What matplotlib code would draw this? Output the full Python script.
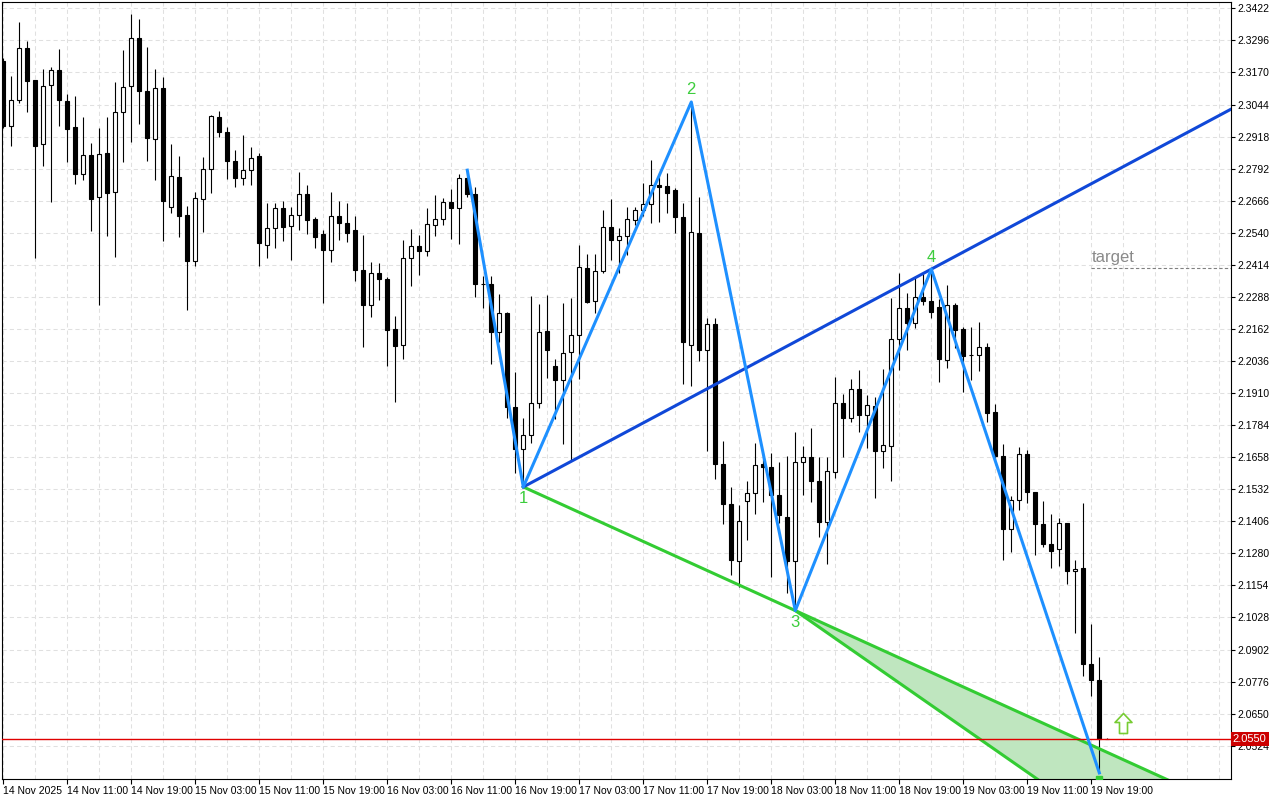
import numpy as np
import matplotlib.pyplot as plt
import matplotlib.transforms as mtransforms
from matplotlib.path import Path

plt.rcParams['font.family'] = ['Liberation Sans', 'DejaVu Sans']

# hourly bars, first one is 14 Nov 03:00
opens = [2.3215, 2.2959, 2.3062, 2.3266, 2.3140, 2.2889, 2.3121, 2.3180, 2.3058, 2.2956,
         2.2771, 2.2845, 2.2680, 2.2853, 2.2700, 2.3014, 2.3117, 2.3305, 2.3097, 2.2908,
         2.3109, 2.2641, 2.2759, 2.2610, 2.2429, 2.2673, 2.2790, 2.2995, 2.2936, 2.2822,
         2.2755, 2.2786, 2.2842, 2.2492, 2.2559, 2.2637, 2.2566, 2.2610, 2.2692, 2.2594,
         2.2535, 2.2472, 2.2606, 2.2578, 2.2551, 2.2394, 2.2256, 2.2382, 2.2358, 2.2162,
         2.2099, 2.2441, 2.2488, 2.2468, 2.2570, 2.2594, 2.2661, 2.2637, 2.2755, 2.2692,
         2.2338, 2.2338, 2.2150, 2.2225, 2.1855, 2.1690, 2.1745, 2.1871, 2.2154, 2.2016,
         2.1961, 2.2071, 2.2138, 2.2401, 2.2272, 2.2390, 2.2563, 2.2511, 2.2527, 2.2590,
         2.2629, 2.2653, 2.2728, 2.2724, 2.2708, 2.2602, 2.2099, 2.2539, 2.2079, 2.2181,
         2.1631, 2.1474, 2.1250, 2.1486, 2.1517, 2.1631, 2.1619, 2.1509, 2.1423, 2.1250,
         2.1639, 2.1659, 2.1564, 2.1403, 2.1600, 2.1871, 2.1812, 2.1926, 2.1824, 2.1859,
         2.1682, 2.1702, 2.2122, 2.2244, 2.2185, 2.2287, 2.2272, 2.2248, 2.2040, 2.2256,
         2.2162, 2.2059, 2.2059, 2.2091, 2.1835, 2.1663, 2.1376, 2.1490, 2.1670, 2.1521,
         2.1395, 2.1317, 2.1297, 2.1399, 2.1211, 2.1222, 2.0845, 2.0782, 2.0552]
highs = [2.3227, 2.3156, 2.3368, 2.3293, 2.3142, 2.3183, 2.3191, 2.3262, 2.3085, 2.3077,
         2.2995, 2.2893, 2.2952, 2.2995, 2.3132, 2.3258, 2.3400, 2.3380, 2.3270, 2.3183,
         2.3152, 2.2889, 2.2842, 2.2645, 2.2700, 2.2838, 2.3003, 2.3018, 2.2956, 2.2865,
         2.2924, 2.2877, 2.2853, 2.2657, 2.2657, 2.2665, 2.2641, 2.2779, 2.2728, 2.2602,
         2.2551, 2.2700, 2.2665, 2.2657, 2.2606, 2.2531, 2.2425, 2.2421, 2.2366, 2.2213,
         2.2511, 2.2555, 2.2531, 2.2637, 2.2688, 2.2676, 2.2712, 2.2771, 2.2786, 2.2720,
         2.2370, 2.2370, 2.2299, 2.2228, 2.1993, 2.1812, 2.2291, 2.2260, 2.2295, 2.2044,
         2.2264, 2.2283, 2.2492, 2.2456, 2.2456, 2.2629, 2.2673, 2.2559, 2.2641, 2.2641,
         2.2735, 2.2826, 2.2775, 2.2775, 2.2716, 2.2657, 2.3054, 2.2680, 2.2205, 2.2205,
         2.1721, 2.1541, 2.1470, 2.1564, 2.1714, 2.1674, 2.1674, 2.1639, 2.1663, 2.1757,
         2.1702, 2.1773, 2.1659, 2.1659, 2.1973, 2.1906, 2.1965, 2.2000, 2.1902, 2.1894,
         2.2004, 2.2283, 2.2382, 2.2303, 2.2366, 2.2382, 2.2397, 2.2280, 2.2335, 2.2264,
         2.2170, 2.2170, 2.2189, 2.2107, 2.1867, 2.1710, 2.1505, 2.1698, 2.1686, 2.1523,
         2.1486, 2.1435, 2.1419, 2.1401, 2.1254, 2.1478, 2.1002, 2.0873, 2.0554]
lows = [2.2952, 2.2881, 2.3050, 2.3014, 2.2441, 2.2802, 2.2661, 2.2959, 2.2818, 2.2732,
        2.2747, 2.2547, 2.2256, 2.2527, 2.2445, 2.2818, 2.2897, 2.2967, 2.2822, 2.2747,
        2.2507, 2.2618, 2.2523, 2.2236, 2.2409, 2.2543, 2.2696, 2.2916, 2.2751, 2.2720,
        2.2728, 2.2728, 2.2409, 2.2441, 2.2480, 2.2507, 2.2433, 2.2551, 2.2535, 2.2480,
        2.2264, 2.2425, 2.2511, 2.2504, 2.2350, 2.2091, 2.2209, 2.2276, 2.2016, 2.1875,
        2.2044, 2.2331, 2.2374, 2.2449, 2.2527, 2.2570, 2.2515, 2.2496, 2.2680, 2.2287,
        2.2244, 2.2024, 2.2111, 2.1812, 2.1596, 2.1541, 2.1714, 2.1851, 2.1969, 2.1808,
        2.1710, 2.1647, 2.1965, 2.2264, 2.2225, 2.2382, 2.2433, 2.2382, 2.2452, 2.2570,
        2.2606, 2.2578, 2.2582, 2.2618, 2.2539, 2.1946, 2.1938, 2.2036, 2.1682, 2.1572,
        2.1395, 2.1195, 2.1148, 2.1332, 2.1435, 2.1482, 2.1187, 2.1399, 2.1124, 2.1055,
        2.1509, 2.1482, 2.1344, 2.1238, 2.1576, 2.1659, 2.1796, 2.1757, 2.1694, 2.1497,
        2.1615, 2.1564, 2.2000, 2.2079, 2.2166, 2.2256, 2.2205, 2.1953, 2.2008, 2.2087,
        2.1914, 2.1961, 2.1997, 2.1796, 2.1639, 2.1254, 2.1285, 2.1450, 2.1478, 2.1273,
        2.1305, 2.1222, 2.1230, 2.1160, 2.0967, 2.0798, 2.0719, 2.0417, 2.0550]
closes = [2.2959, 2.3062, 2.3266, 2.3136, 2.2881, 2.3117, 2.3180, 2.3062, 2.2948, 2.2771,
          2.2845, 2.2673, 2.2849, 2.2696, 2.3014, 2.3113, 2.3305, 2.3097, 2.2912, 2.3109,
          2.2665, 2.2763, 2.2606, 2.2429, 2.2676, 2.2790, 2.2999, 2.2936, 2.2822, 2.2755,
          2.2786, 2.2834, 2.2500, 2.2559, 2.2637, 2.2563, 2.2610, 2.2692, 2.2590, 2.2523,
          2.2472, 2.2606, 2.2578, 2.2539, 2.2394, 2.2256, 2.2382, 2.2358, 2.2158, 2.2095,
          2.2441, 2.2488, 2.2468, 2.2574, 2.2594, 2.2661, 2.2637, 2.2755, 2.2692, 2.2338,
          2.2337, 2.2150, 2.2225, 2.1855, 2.1690, 2.1745, 2.1871, 2.2150, 2.2079, 2.1961,
          2.2067, 2.2138, 2.2405, 2.2268, 2.2390, 2.2563, 2.2511, 2.2527, 2.2594, 2.2629,
          2.2653, 2.2728, 2.2720, 2.2696, 2.2602, 2.2111, 2.2543, 2.2079, 2.2181, 2.1631,
          2.1474, 2.1254, 2.1407, 2.1517, 2.1627, 2.1619, 2.1509, 2.1431, 2.1250, 2.1639,
          2.1659, 2.1564, 2.1403, 2.1604, 2.1871, 2.1812, 2.1926, 2.1824, 2.1863, 2.1682,
          2.1706, 2.2122, 2.2244, 2.2185, 2.2287, 2.2272, 2.2228, 2.2044, 2.2256, 2.2158,
          2.2056, 2.2058, 2.2091, 2.1832, 2.1663, 2.1376, 2.1490, 2.1670, 2.1521, 2.1395,
          2.1317, 2.1289, 2.1399, 2.1211, 2.1218, 2.0845, 2.0782, 2.0552, 2.0550]

time_labels = ["14 Nov 2025", "14 Nov 11:00", "14 Nov 19:00", "15 Nov 03:00", "15 Nov 11:00",
               "15 Nov 19:00", "16 Nov 03:00", "16 Nov 11:00", "16 Nov 19:00", "17 Nov 03:00",
               "17 Nov 11:00", "17 Nov 19:00", "18 Nov 03:00", "18 Nov 11:00", "18 Nov 19:00",
               "19 Nov 03:00", "19 Nov 11:00", "19 Nov 19:00"]
price_ticks = [2.0524, 2.0650, 2.0776, 2.0902, 2.1028, 2.1154, 2.1280, 2.1406, 2.1532, 2.1658,
               2.1784, 2.1910, 2.2036, 2.2162, 2.2288, 2.2414, 2.2540, 2.2666, 2.2792, 2.2918,
               2.3044, 2.3170, 2.3296, 2.3422]

# wave points: start, 1, 2, 3, 4, 5
wave_bar = [58, 65, 86, 99, 116, 137]
wave_price = [2.2786, 2.1541, 2.3054, 2.1055, 2.2397, 2.0417]
wave_names = ["", "1", "2", "3", "4", ""]

current_price = 2.0550
target_price = 2.2400
target_bar = 136
signal_bar = 140
signal_price = 2.0613

o = np.array(opens)
h = np.array(highs)
l = np.array(lows)
c = np.array(closes)
x = np.arange(len(o))

fig = plt.figure(figsize=(12.8, 8), dpi=100)
ax = fig.add_axes([2 / 1280, 21 / 800, 1229 / 1280, 777 / 800])
x0, x1 = -0.16, 153.46
y0, y1 = 2.0393, 2.3447

# grid
for k in range(0, 154, 4):
    ax.axvline(k, color='#e0e0e0', lw=0.75, ls=(0, (4, 3)), zorder=0)
for p in price_ticks:
    ax.axhline(p, color='#e0e0e0', lw=0.75, ls=(0, (4, 3)), zorder=0)

# candles
up = c >= o
ax.vlines(x, l, h, color='black', lw=0.8, zorder=2)
ax.bar(x, np.maximum(np.abs(c - o), 0.00002), bottom=np.minimum(o, c), width=0.5,
       color=np.where(up, 'white', 'black'), edgecolor='black', linewidth=0.8, zorder=3)

wb = np.array(wave_bar, dtype=float)
wp = np.array(wave_price)
xe = 220

# green zone from point 3
s13 = (wp[3] - wp[1]) / (wb[3] - wb[1])
s24 = (wp[4] - wp[2]) / (wb[4] - wb[2])
upper_end = wp[1] + s13 * (xe - wb[1])
lower_end = wp[3] + s24 * (xe - wb[3])
ax.fill([wb[3], xe, xe], [wp[3], upper_end, lower_end], color='#bfe6bf', lw=0, zorder=1)
ax.plot([wb[1], xe], [wp[1], upper_end], color='#33cc33', lw=2.2, zorder=4)
ax.plot([wb[3], xe], [wp[3], lower_end], color='#33cc33', lw=2.2, zorder=4)

# current price
ax.axhline(current_price, color='#e00000', lw=1.0, zorder=4)

# 1-4 line
s14 = (wp[4] - wp[1]) / (wb[4] - wb[1])
ax.plot([wb[1], x1], [wp[1], wp[1] + s14 * (x1 - wb[1])], color='#1048d8', lw=2.2, zorder=5)

# zigzag
ax.plot(wb, wp, color='#1e90ff', lw=2.2, zorder=5)

for i, (b, p, name) in enumerate(zip(wave_bar, wave_price, wave_names)):
    if not name:
        continue
    dy = -12 if i % 2 == 1 else 12
    ax.annotate(name, (b, p), xytext=(0, dy), textcoords='offset pixels', ha='center',
                va='center', color='#3ccd3c', fontsize=12, zorder=6)

# target
ax.plot([target_bar, x1], [target_price, target_price], color='#808080', lw=0.8,
        ls=(0, (3, 2)), zorder=4)
ax.annotate('target', (target_bar, target_price), xytext=(0, 3), textcoords='offset pixels',
            ha='left', va='bottom', color='#8a8a8a', fontsize=12, zorder=6)

# buy arrow
arrow = Path([(0, 10), (8.5, 1), (4, 1), (4, -10), (-4, -10), (-4, 1), (-8.5, 1), (0, 10)],
             closed=True)
ax.plot(signal_bar, signal_price, marker=arrow, ms=14.4, mfc='white', mec='#77cc33', mew=1.2,
        zorder=6)
ax.plot(wave_bar[-1], y0, marker='s', ms=4, color='#33cc33', zorder=6)

# axes
ax.set_xlim(x0, x1)
ax.set_ylim(y0, y1)
ax.yaxis.tick_right()
ax.set_yticks(price_ticks)
ax.set_yticklabels([f"{p:.4f}" for p in price_ticks])
ax.tick_params(axis='y', direction='out', length=3, width=0.8, pad=1.5, labelsize=7.5)
ax.set_xticks(np.arange(len(time_labels)) * 8)
ax.set_xticklabels(time_labels, ha='left')
ax.tick_params(axis='x', direction='out', length=3.6, width=0.8, pad=1.5, labelsize=7.5)
for sp in ax.spines.values():
    sp.set_linewidth(0.8)

trans = mtransforms.blended_transform_factory(ax.transAxes, ax.transData)
ax.text(1.0015, current_price, f"{current_price:.4f}", transform=trans, ha='left', va='center',
        color='white', fontsize=8, zorder=10, clip_on=False,
        bbox=dict(boxstyle='square,pad=0.2', fc='#cc0000', ec='none'))

fig.savefig('out.png', dpi=100, facecolor='white')
